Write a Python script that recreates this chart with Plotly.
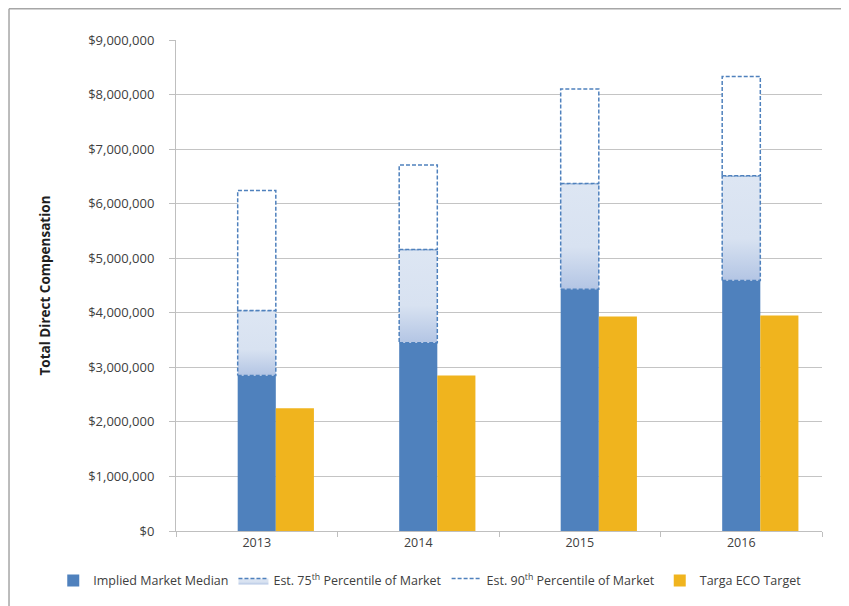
import plotly.graph_objects as go

years = ["2013", "2014", "2015", "2016"]
median = [2850000, 3450000, 4430000, 4590000]
p75 = [4040000, 5160000, 6370000, 6510000]
p90 = [6240000, 6710000, 8100000, 8330000]
target = [2250000, 2850000, 3930000, 3950000]

BLUE = "#4f81bd"
YELLOW = "#f0b41e"
W = 0.236
xs = list(range(len(years)))

fig = go.Figure()

fig.add_trace(go.Bar(
    x=xs, y=median, width=W, offset=-W / 2, marker=dict(color=BLUE, line=dict(width=0)),
    name="Implied Market Median", legendrank=1))
fig.add_trace(go.Bar(
    x=xs, y=target, width=W, offset=W / 2, marker=dict(color=YELLOW, line=dict(width=0)),
    name="Targa ECO Target", legendrank=4))

# 75th percentile segments (gradient fill, dashed outline)
for i, x in enumerate(xs):
    x0, x1 = x - W / 2, x + W / 2
    fig.add_trace(go.Scatter(
        x=[x0, x1, x1, x0, x0], y=[median[i], median[i], p75[i], p75[i], median[i]],
        mode="lines", fill="toself",
        fillgradient=dict(type="vertical", start=median[i], stop=p75[i],
                          colorscale=[[0, "#b3c5e4"], [0.4, "#d8e2f1"], [1, "#dde6f3"]]),
        line=dict(color=BLUE, width=1.5, dash="4px,2px"),
        name="Est. 75<sup>th</sup> Percentile of Market", legendgroup="p75",
        showlegend=(i == 0), legendrank=2, hoverinfo="skip"))

# 90th percentile segments (white fill, dashed outline)
for i, x in enumerate(xs):
    x0, x1 = x - W / 2, x + W / 2
    fig.add_trace(go.Scatter(
        x=[x0, x1, x1, x0, x0], y=[p75[i], p75[i], p90[i], p90[i], p75[i]],
        mode="lines", fill="toself", fillcolor="white",
        line=dict(color=BLUE, width=1.5, dash="4px,2px"),
        name="Est. 90<sup>th</sup> Percentile of Market", legendgroup="p90",
        showlegend=(i == 0), legendrank=3, hoverinfo="skip"))

fig.update_layout(
    width=841, height=598,
    margin=dict(l=168, r=27, t=32, b=75, autoexpand=False),
    paper_bgcolor="white", plot_bgcolor="white",
    barmode="overlay",
    font=dict(family="Open Sans", size=12, color="#404040"),
    showlegend=True,
    legend=dict(orientation="h", x=-0.19, xanchor="left", y=-0.071, yanchor="top",
                font=dict(size=12.5, color="#404040"), traceorder="normal",
                itemwidth=30, tracegroupgap=0),
    xaxis=dict(
        range=[-0.5, 3.5], tickvals=xs, ticktext=years, ticks="",
        showline=True, linecolor="#bfbfbf", linewidth=1, showgrid=False, zeroline=False,
        minor=dict(tickvals=[-0.5, 0.5, 1.5, 2.5, 3.5], ticks="outside", ticklen=5,
                   tickcolor="#bfbfbf", showgrid=False),
        tickfont=dict(size=12.5, color="#404040"), automargin=False,
    ),
    yaxis=dict(
        range=[0, 9000000], dtick=1000000, tickformat="$,.0f",
        showgrid=True, gridcolor="#c4c4c4", gridwidth=1,
        showline=True, linecolor="#bfbfbf", linewidth=1, zeroline=False,
        ticks="outside", ticklen=6, tickcolor="#bfbfbf", ticklabelstandoff=12,
        tickfont=dict(size=13, color="#404040"), automargin=False,
        title=dict(text="<b>Total Direct Compensation</b>", standoff=34,
                   font=dict(size=13.5, color="#1f1f1f")),
    ),
    shapes=[
        dict(type="line", xref="paper", yref="paper", x0=-0.2585, x1=1.05, y0=1.0636, y1=1.0636,
             line=dict(color="#a6a6a6", width=1.5)),
        dict(type="line", xref="paper", yref="paper", x0=-0.2585, x1=-0.2585, y0=-0.16, y1=1.0636,
             line=dict(color="#a6a6a6", width=1.5)),
    ],
)

fig.write_html("out.html")
